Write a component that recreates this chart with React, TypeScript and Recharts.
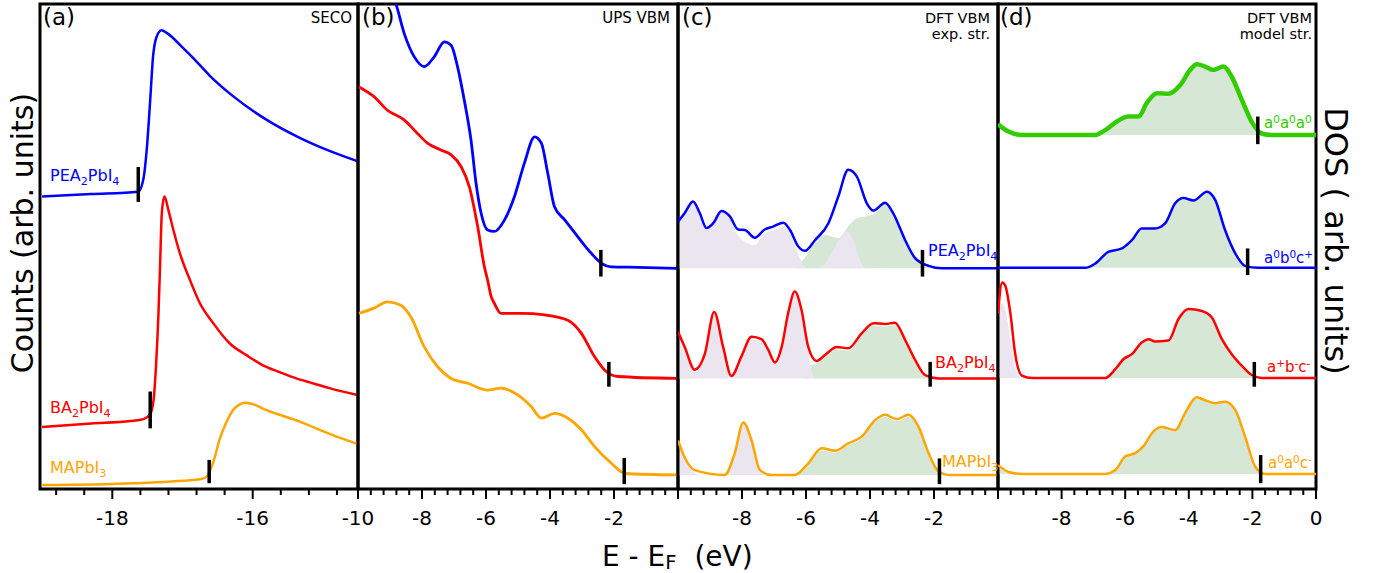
import React from "react";
import {
  Area,
  ComposedChart,
  Line,
  ReferenceArea,
  ReferenceLine,
  XAxis,
  YAxis,
} from "recharts";

type Pt = [number, number];

const C = {
  blue: "#0000ff",
  red: "#ff0000",
  orange: "#ffa500",
  green: "#33cc00",
  fillGreen: "#d6e7d6",
  fillLav: "#ebe5ef",
};

// x ticks (eV); only labelled ones get a number
const ticksA = [-18.8, -18.4, -18, -17.6, -17.2, -16.8, -16.4, -16, -15.6, -15.2, -14.8];
const ticksBCD = [
  -10, -9.6, -9.2, -8.8, -8.4, -8, -7.6, -7.2, -6.8, -6.4, -6, -5.6, -5.2, -4.8, -4.4, -4, -3.6,
  -3.2, -2.8, -2.4, -2, -1.6, -1.2, -0.8, -0.4, 0,
];
const labelsA = [-18, -16];
const labelsB = [-10, -8, -6, -4, -2];
const labelsC = [-8, -6, -4, -2];
const labelsD = [-8, -6, -4, -2, 0];

// (a) SECO
const secoPEA: Pt[] = [
  [-19.0, 60.3], [-18.3, 60.8], [-17.63, 61.3], [-17.56, 63.7], [-17.51, 69.9], [-17.46, 80.2],
  [-17.42, 89.1], [-17.37, 93.2], [-17.3, 94.6], [-17.22, 94.0], [-16.99, 90.9], [-16.85, 88.9],
  [-16.61, 85.2], [-16.28, 81.0], [-15.8, 76.1], [-15.33, 72.4], [-14.87, 69.5], [-14.51, 67.6],
];
const secoBA: Pt[] = [
  [-19.0, 12.8], [-18.3, 13.5], [-17.745, 14.0], [-17.556, 14.4], [-17.461, 15.4], [-17.414, 18.1],
  [-17.376, 25.7], [-17.343, 36.0], [-17.319, 46.3], [-17.295, 56.8], [-17.258, 60.3],
  [-17.201, 57.5], [-17.13, 53.4], [-17.035, 48.5], [-16.894, 43.1], [-16.752, 38.3],
  [-16.563, 34.2], [-16.326, 30.0], [-16.089, 27.6], [-15.854, 25.5], [-15.617, 24.1],
  [-15.38, 22.8], [-15.145, 21.8], [-14.908, 20.8], [-14.51, 19.4],
];
const secoMA: Pt[] = [
  [-19.0, 0.8], [-17.7, 1.2], [-16.75, 2.0], [-16.66, 2.5], [-16.56, 5.6], [-16.47, 10.3],
  [-16.37, 13.9], [-16.28, 16.3], [-16.19, 17.4], [-16.11, 17.8], [-16.0, 17.5], [-15.81, 16.3],
  [-15.33, 13.9], [-14.86, 11.1], [-14.51, 9.3],
];

// (b) UPS VBM
const upsPEA: Pt[] = [
  [-9.09, 103.3], [-8.82, 100.1], [-8.56, 94.0], [-8.24, 89.1], [-7.93, 87.1], [-7.62, 89.1],
  [-7.3, 92.2], [-7.09, 91.5], [-6.89, 87.1], [-6.68, 80.2], [-6.47, 72.0], [-6.31, 63.0],
  [-6.15, 56.8], [-5.95, 53.4], [-5.74, 53.1], [-5.42, 55.5], [-5.11, 60.3], [-4.8, 67.2],
  [-4.48, 72.6], [-4.27, 71.3], [-4.07, 65.1], [-3.86, 58.2], [-3.54, 55.5], [-3.13, 52.0],
  [-2.71, 48.6], [-2.39, 46.5], [-2.08, 45.8], [-1.24, 45.7], [-0.04, 45.5],
];
const upsBA: Pt[] = [
  [-9.97, 82.9], [-9.5, 80.9], [-9.08, 78.1], [-8.56, 76.1], [-8.14, 73.3], [-7.83, 71.3],
  [-7.41, 69.9], [-7.09, 68.9], [-6.78, 66.5], [-6.52, 62.3], [-6.26, 54.1], [-6.05, 45.8],
  [-5.95, 43.1], [-5.84, 39.7], [-5.74, 38.3], [-5.53, 36.2], [-4.9, 36.2], [-4.17, 35.9],
  [-3.44, 34.8], [-3.02, 32.1], [-2.61, 27.3], [-2.29, 24.5], [-1.87, 23.2], [-0.04, 22.8],
];
const upsMA: Pt[] = [
  [-9.97, 36.2], [-9.5, 37.3], [-9.08, 38.6], [-8.66, 37.9], [-8.35, 35.5], [-7.93, 29.3],
  [-7.51, 25.2], [-7.09, 22.8], [-6.57, 21.8], [-5.95, 20.4], [-5.53, 20.8], [-5.01, 19.4],
  [-4.59, 17.0], [-4.27, 14.6], [-3.86, 15.6], [-3.44, 14.6], [-3.02, 12.2], [-2.6, 8.7],
  [-2.08, 5.3], [-1.66, 3.2], [-0.04, 2.9],
];

// (c) DFT VBM, experimental structures
const expPEA: Pt[] = [
  [-10, 55.1], [-9.79, 56.9], [-9.53, 59.3], [-9.32, 56.9], [-9.11, 53.8], [-8.9, 54.8],
  [-8.64, 57.3], [-8.38, 56.2], [-8.12, 53.5], [-7.91, 53.4], [-7.6, 51.8], [-7.29, 53.5],
  [-7.03, 54.1], [-6.71, 54.9], [-6.5, 53.4], [-6.24, 50.0], [-6.03, 49.1], [-5.72, 51.3],
  [-5.3, 54.8], [-4.99, 60.3], [-4.68, 65.8], [-4.41, 64.4], [-4.1, 58.9], [-3.89, 57.4],
  [-3.53, 59.0], [-3.27, 56.8], [-2.9, 51.3], [-2.59, 47.6], [-2.17, 46.0], [-1.75, 45.5],
  [-0.08, 45.5], [0, 45.5],
];
const expPEAorg: Pt[] = [
  [-10, 54.6], [-9.79, 56.5], [-9.53, 58.8], [-9.32, 56.5], [-9.11, 53.4], [-8.9, 54.4],
  [-8.64, 57.0], [-8.38, 55.8], [-8.17, 52.7], [-7.91, 51.0], [-7.6, 50.3], [-7.29, 52.8],
  [-6.97, 53.4], [-6.71, 54.2], [-6.5, 52.7], [-6.29, 49.3], [-6.09, 46.2], [-5.93, 45.5],
  [-5.51, 45.8], [-5.2, 48.6], [-4.88, 52.4], [-4.73, 53.1], [-4.52, 51.3], [-4.31, 47.2],
  [-4.1, 45.5], [-3.9, 45.5],
];
const expPEAinorg: Pt[] = [
  [-6.35, 45.5], [-6.09, 47.2], [-5.72, 50.7], [-5.41, 52.4], [-4.99, 51.7], [-4.68, 54.1],
  [-4.41, 55.8], [-4.1, 56.3], [-3.84, 56.8], [-3.53, 58.9], [-3.27, 56.7], [-2.9, 51.2],
  [-2.59, 47.6], [-2.28, 45.8], [-2.07, 45.5],
];
const expBA: Pt[] = [
  [-10, 32.4], [-9.79, 29.3], [-9.48, 24.6], [-9.16, 27.9], [-8.87, 36.5], [-8.59, 29.3],
  [-8.33, 23.3], [-8.02, 27.3], [-7.7, 31.4], [-7.39, 30.9], [-7.18, 28.7], [-6.97, 26.1],
  [-6.76, 29.3], [-6.56, 36.2], [-6.35, 40.7], [-6.14, 36.9], [-5.93, 29.3], [-5.67, 26.4],
  [-5.41, 27.6], [-5.04, 29.3], [-4.68, 29.0], [-4.26, 32.1], [-3.89, 34.2], [-3.53, 34.0],
  [-3.22, 34.3], [-2.9, 30.7], [-2.59, 26.6], [-2.28, 23.5], [-1.86, 22.8], [0, 22.8],
];
const expBAorg: Pt[] = [
  [-10, 31.8], [-9.79, 28.7], [-9.48, 24.0], [-9.16, 27.3], [-8.87, 35.9], [-8.59, 28.7],
  [-8.33, 22.8], [-8.02, 26.7], [-7.7, 30.8], [-7.39, 30.3], [-7.18, 28.1], [-6.97, 25.5],
  [-6.76, 28.7], [-6.56, 35.6], [-6.35, 40.1], [-6.14, 36.3], [-5.98, 30.0], [-5.85, 25.0],
  [-5.7, 22.8],
];
const expBAinorg: Pt[] = [
  [-10, 26.7], [-9.69, 25.2], [-9.48, 23.5], [-9.37, 22.8], [-6.1, 22.8], [-5.93, 25.3],
  [-5.67, 25.9], [-5.41, 27.1], [-5.04, 28.8], [-4.68, 28.5], [-4.26, 31.6], [-3.89, 33.7],
  [-3.53, 33.5], [-3.22, 33.8], [-2.9, 30.2], [-2.59, 26.1], [-2.28, 23.1], [-2.1, 22.8],
];
const expMA: Pt[] = [
  [-10, 10.0], [-9.79, 6.5], [-9.48, 3.9], [-8.54, 2.9], [-8.23, 7.3], [-7.96, 13.7],
  [-7.7, 10.0], [-7.44, 3.9], [-7.08, 2.9], [-6.35, 2.9], [-5.93, 5.3], [-5.51, 8.4],
  [-5.09, 7.9], [-4.68, 9.4], [-4.26, 10.8], [-3.84, 14.2], [-3.53, 15.3], [-3.16, 14.4],
  [-2.8, 15.3], [-2.49, 12.9], [-2.17, 7.4], [-1.86, 3.6], [-1.55, 2.9], [0, 2.9],
];
const expMAorg: Pt[] = [
  [-10, 9.5], [-9.79, 6.2], [-9.6, 4.0], [-9.3, 2.9], [-8.54, 2.9], [-8.23, 7.0], [-7.96, 13.3],
  [-7.7, 9.6], [-7.44, 3.6], [-7.2, 2.9],
];
const expMAinorg: Pt[] = [
  [-6.5, 2.9], [-6.2, 3.6], [-5.93, 5.0], [-5.51, 8.0], [-5.09, 7.5], [-4.68, 9.0],
  [-4.26, 10.4], [-3.84, 13.8], [-3.53, 14.9], [-3.16, 14.0], [-2.8, 14.9], [-2.49, 12.5],
  [-2.17, 7.0], [-1.86, 3.3], [-1.6, 2.9],
];

// (d) DFT VBM, model structures (tilt patterns)
const modA0A0A0: Pt[] = [
  [-10, 75.2], [-9.67, 73.7], [-9.25, 73.0], [-6.94, 73.0], [-6.63, 74.0], [-6.21, 76.0],
  [-5.9, 76.8], [-5.58, 76.8], [-5.32, 79.6], [-5.0, 81.6], [-4.64, 81.5], [-4.27, 83.3],
  [-3.96, 86.4], [-3.75, 87.6], [-3.49, 87.1], [-3.23, 86.4], [-2.91, 87.1], [-2.65, 85.0],
  [-2.33, 80.2], [-2.02, 75.7], [-1.71, 73.3], [-1.39, 73.0], [0, 73.0],
];
const modA0A0A0fill: Pt[] = [
  [-6.94, 73.0], [-6.63, 73.8], [-6.21, 75.6], [-5.9, 76.3], [-5.58, 76.3], [-5.32, 79.1],
  [-5.0, 81.1], [-4.64, 81.0], [-4.27, 82.8], [-3.96, 85.9], [-3.75, 87.1], [-3.49, 86.6],
  [-3.23, 85.9], [-2.91, 86.6], [-2.65, 84.5], [-2.33, 79.7], [-2.02, 75.2], [-1.71, 73.0],
];
const modA0B0Cp: Pt[] = [
  [-10, 45.6], [-7.26, 45.6], [-6.94, 46.5], [-6.53, 48.9], [-6.1, 49.6], [-5.79, 51.3],
  [-5.48, 53.7], [-5.06, 53.7], [-4.74, 54.8], [-4.43, 58.9], [-4.17, 60.0], [-3.85, 59.5],
  [-3.43, 61.3], [-3.17, 59.6], [-2.86, 53.4], [-2.54, 48.6], [-2.23, 46.0], [-1.81, 45.6],
  [0, 45.6],
];
const modA0B0Cpfill: Pt[] = [
  [-7.26, 45.6], [-6.94, 46.3], [-6.53, 48.6], [-6.1, 49.3], [-5.79, 51.0], [-5.48, 53.4],
  [-5.06, 53.4], [-4.74, 54.5], [-4.43, 58.6], [-4.17, 59.7], [-3.85, 59.2], [-3.43, 61.0],
  [-3.17, 59.3], [-2.86, 53.1], [-2.54, 48.3], [-2.23, 45.8], [-1.9, 45.6],
];
const modApBmCm: Pt[] = [
  [-10, 36.2], [-9.87, 42.6], [-9.77, 41.9], [-9.61, 36.2], [-9.46, 27.9], [-9.25, 23.4],
  [-8.93, 22.9], [-6.63, 22.9], [-6.31, 24.7], [-6.05, 26.8], [-5.79, 27.8], [-5.48, 30.2],
  [-5.26, 30.9], [-5.06, 30.4], [-4.64, 30.6], [-4.32, 35.1], [-4.01, 37.1], [-3.59, 36.7],
  [-3.28, 35.4], [-2.96, 30.9], [-2.65, 27.8], [-2.33, 25.4], [-2.02, 23.5], [-1.71, 22.9],
  [0, 22.9],
];
const modApBmCmorg: Pt[] = [
  [-10, 36.0], [-9.87, 38.3], [-9.77, 37.0], [-9.61, 31.0], [-9.46, 25.0], [-9.3, 22.9],
];
const modApBmCminorg: Pt[] = [
  [-10, 27.6], [-9.87, 27.8], [-9.7, 26.0], [-9.5, 23.5], [-9.35, 22.9], [-6.63, 22.9],
  [-6.31, 24.4], [-6.05, 26.5], [-5.79, 27.5], [-5.48, 29.9], [-5.26, 30.6], [-5.06, 30.1],
  [-4.64, 30.3], [-4.32, 34.8], [-4.01, 36.8], [-3.59, 36.4], [-3.28, 35.1], [-2.96, 30.6],
  [-2.65, 27.5], [-2.33, 25.1], [-2.02, 23.2], [-1.8, 22.9],
];
const modA0A0Cm: Pt[] = [
  [-10, 4.9], [-9.67, 3.5], [-9.25, 3.1], [-6.63, 3.1], [-6.31, 3.9], [-6.0, 6.7], [-5.68, 7.4],
  [-5.43, 8.8], [-5.11, 11.9], [-4.85, 12.8], [-4.43, 12.1], [-4.12, 15.6], [-3.75, 18.9],
  [-3.49, 18.3], [-3.17, 17.7], [-2.86, 18.0], [-2.54, 16.3], [-2.23, 10.8], [-1.91, 4.6],
  [-1.6, 3.1], [0, 3.1],
];
const modA0A0Cmfill: Pt[] = [
  [-10, 4.6], [-9.7, 3.3], [-9.4, 3.1], [-6.63, 3.1], [-6.31, 3.7], [-6.0, 6.4], [-5.68, 7.1],
  [-5.43, 8.5], [-5.11, 11.6], [-4.85, 12.5], [-4.43, 11.8], [-4.12, 15.3], [-3.75, 18.6],
  [-3.49, 18.0], [-3.17, 17.4], [-2.86, 17.7], [-2.54, 16.0], [-2.23, 10.5], [-1.91, 4.4],
  [-1.7, 3.1],
];

// onset markers: [x, yLow, yHigh]
const markA: [number, number, number][] = [[-17.63, 59.2, 66.4], [-17.46, 12.5, 20.1], [-16.62, 1.2, 6.0]];
const markB: [number, number, number][] = [[-2.41, 43.8, 49.3], [-2.16, 21.1, 26.2], [-1.68, 1.0, 6.4]];
const markC: [number, number, number][] = [[-2.36, 43.8, 49.3], [-2.12, 21.1, 26.2], [-1.83, 1.0, 6.3]];
const markD: [number, number, number][] = [
  [-1.83, 71.1, 76.8], [-2.15, 44.1, 49.6], [-1.94, 21.1, 26.2], [-1.74, 1.2, 7.0],
];

const pts = (a: Pt[]) => a.map(([x, y]) => ({ x, y }));
const FONT = "'DejaVu Sans', sans-serif";

function renderTick(props: any, labels: number[]) {
  const { x, y, payload } = props;
  const v = payload.value;
  const major = Math.abs(v % 2) < 1e-6;
  return (
    <g>
      <line x1={x} x2={x} y1={y} y2={y + (major ? 10 : 6)} stroke="#000" strokeWidth={2} />
      {labels.includes(v) && (
        <text x={x} y={y + 36} textAnchor="middle" fontSize={20} fontFamily={FONT} fill="#000">
          {v}
        </text>
      )}
    </g>
  );
}

function lineEl(key: string, data: Pt[], color: string, w = 2.5) {
  return (
    <Line
      key={key}
      data={pts(data)}
      dataKey="y"
      type="monotone"
      stroke={color}
      strokeWidth={w}
      dot={false}
      activeDot={false}
      isAnimationActive={false}
    />
  );
}

function areaEl(key: string, data: Pt[], fill: string, base: number) {
  return (
    <Area
      key={key}
      data={pts(data)}
      dataKey="y"
      type="monotone"
      baseValue={base}
      fill={fill}
      fillOpacity={1}
      stroke="none"
      dot={false}
      activeDot={false}
      isAnimationActive={false}
    />
  );
}

function Panel({
  left,
  width,
  domain,
  ticks,
  labels,
  marks,
  items,
}: {
  left: number;
  width: number;
  domain: [number, number];
  ticks: number[];
  labels: number[];
  marks: [number, number, number][];
  items: React.ReactNode[];
}) {
  return (
    <div style={{ position: "absolute", left: left - 20, top: -6 }}>
      <ComposedChart width={width + 40} height={535} margin={{ top: 10, right: 20, bottom: 0, left: 20 }}>
        <XAxis
          type="number"
          dataKey="x"
          domain={domain}
          allowDataOverflow
          ticks={ticks}
          interval={0}
          tick={(p: any) => renderTick(p, labels)}
          tickLine={false}
          axisLine={false}
          tickSize={0}
          tickMargin={0}
          height={40}
        />
        <YAxis type="number" domain={[0, 100]} allowDataOverflow hide />
        {items}
        {marks.map(([x, y1, y2], i) => (
          <ReferenceLine
            key={"m" + i}
            segment={[
              { x, y: y1 },
              { x, y: y2 },
            ]}
            stroke="#000"
            strokeWidth={3.5}
          />
        ))}
        <ReferenceArea
          x1={domain[0]}
          x2={domain[1]}
          y1={0}
          y2={100}
          fill="none"
          fillOpacity={0}
          stroke="#000"
          strokeWidth={3}
          ifOverflow="visible"
        />
      </ComposedChart>
    </div>
  );
}

const sub = (t: string, shift = 0.35) => (
  <span style={{ fontSize: "0.7em", position: "relative", top: `${shift}em` }}>{t}</span>
);
const sup = (t: string) => (
  <span style={{ fontSize: "0.7em", position: "relative", top: "-0.45em" }}>{t}</span>
);

function Txt({
  left,
  top,
  right,
  size,
  color = "#000",
  lh,
  align,
  children,
}: {
  left?: number;
  top: number;
  right?: number;
  size: number;
  color?: string;
  lh?: number;
  align?: "left" | "right";
  children: React.ReactNode;
}) {
  return (
    <div
      style={{
        position: "absolute",
        left,
        right,
        top,
        fontSize: size,
        lineHeight: `${lh ?? size}px`,
        fontFamily: FONT,
        color,
        whiteSpace: "nowrap",
        textAlign: align ?? "left",
      }}
    >
      {children}
    </div>
  );
}

export default function App() {
  return (
    <div
      style={{
        position: "absolute",
        left: 0,
        top: 0,
        width: 1377,
        height: 573,
        background: "#fff",
        overflow: "hidden",
      }}
    >
      <Panel
        left={40}
        width={318}
        domain={[-19.03, -14.5]}
        ticks={ticksA}
        labels={labelsA}
        marks={markA}
        items={[
          lineEl("a1", secoPEA, C.blue),
          lineEl("a2", secoBA, C.red),
          lineEl("a3", secoMA, C.orange),
        ]}
      />
      <Panel
        left={358}
        width={320}
        domain={[-10, 0]}
        ticks={ticksBCD}
        labels={labelsB}
        marks={markB}
        items={[
          lineEl("b1", upsPEA, C.blue, 2.8),
          lineEl("b2", upsBA, C.red, 2.8),
          lineEl("b3", upsMA, C.orange, 2.8),
        ]}
      />
      <Panel
        left={678}
        width={320}
        domain={[-10, 0]}
        ticks={ticksBCD}
        labels={labelsC}
        marks={markC}
        items={[
          areaEl("c1g", expPEAinorg, C.fillGreen, 45.5),
          areaEl("c1l", expPEAorg, C.fillLav, 45.5),
          areaEl("c2g", expBAinorg, C.fillGreen, 22.8),
          areaEl("c2l", expBAorg, C.fillLav, 22.8),
          areaEl("c3g", expMAinorg, C.fillGreen, 2.9),
          areaEl("c3l", expMAorg, C.fillLav, 2.9),
          lineEl("c1", expPEA, C.blue),
          lineEl("c2", expBA, C.red),
          lineEl("c3", expMA, C.orange),
        ]}
      />
      <Panel
        left={998}
        width={318}
        domain={[-10, 0]}
        ticks={ticksBCD}
        labels={labelsD}
        marks={markD}
        items={[
          areaEl("d1g", modA0A0A0fill, C.fillGreen, 73.0),
          areaEl("d2g", modA0B0Cpfill, C.fillGreen, 45.6),
          areaEl("d3g", modApBmCminorg, C.fillGreen, 22.9),
          areaEl("d3l", modApBmCmorg, C.fillLav, 22.9),
          areaEl("d4g", modA0A0Cmfill, C.fillGreen, 3.1),
          lineEl("d1", modA0A0A0, C.green, 4.5),
          lineEl("d2", modA0B0Cp, C.blue),
          lineEl("d3", modApBmCm, C.red),
          lineEl("d4", modA0A0Cm, C.orange),
        ]}
      />

      {/* panel tags */}
      <Txt left={43} top={6} size={23}>(a)</Txt>
      <Txt left={362} top={6} size={23}>(b)</Txt>
      <Txt left={682} top={6} size={23}>(c)</Txt>
      <Txt left={1000} top={6} size={23}>(d)</Txt>

      {/* panel headers */}
      <Txt right={1377 - 352} top={11} size={15} align="right">SECO</Txt>
      <Txt right={1377 - 670} top={11} size={15} align="right">UPS VBM</Txt>
      <Txt right={1377 - 990} top={11} size={14.5} align="right">DFT VBM</Txt>
      <Txt right={1377 - 990} top={27} size={14.5} align="right">exp. str.</Txt>
      <Txt right={1377 - 1312} top={11} size={14.5} align="right">DFT VBM</Txt>
      <Txt right={1377 - 1312} top={27} size={14.5} align="right">model str.</Txt>

      {/* curve names */}
      <Txt left={50} top={168} size={16} color={C.blue}>PEA{sub("2")}PbI{sub("4")}</Txt>
      <Txt left={50} top={400} size={16} color={C.red}>BA{sub("2")}PbI{sub("4")}</Txt>
      <Txt left={50} top={460} size={16} color={C.orange}>MAPbI{sub("3")}</Txt>
      <Txt left={928} top={243} size={16} color={C.blue}>PEA{sub("2")}PbI{sub("4")}</Txt>
      <Txt left={935} top={355} size={16} color={C.red}>BA{sub("2")}PbI{sub("4")}</Txt>
      <Txt left={942} top={454} size={16} color={C.orange}>MAPbI{sub("3")}</Txt>
      <Txt left={1264} top={116} size={15} color={C.green}>a{sup("0")}a{sup("0")}a{sup("0")}</Txt>
      <Txt left={1264} top={251} size={15} color={C.blue}>a{sup("0")}b{sup("0")}c{sup("+")}</Txt>
      <Txt left={1267} top={360} size={15} color={C.red}>a{sup("+")}b{sup("-")}c{sup("-")}</Txt>
      <Txt left={1268} top={456} size={15} color={C.orange}>a{sup("0")}a{sup("0")}c{sup("-")}</Txt>

      {/* axis titles */}
      <Txt left={602} top={537} size={28} lh={40}>
        E - E{sub("F", 0.17)}&nbsp; (eV)
      </Txt>
      <div
        style={{
          position: "absolute",
          left: 23 - 200,
          top: 233 - 15,
          width: 400,
          height: 30,
          lineHeight: "30px",
          fontSize: 30,
          fontFamily: FONT,
          textAlign: "center",
          transform: "rotate(-90deg)",
          whiteSpace: "nowrap",
        }}
      >
        Counts (arb. units)
      </div>
      <div
        style={{
          position: "absolute",
          left: 1336 - 200,
          top: 241 - 16,
          width: 400,
          height: 32,
          lineHeight: "32px",
          fontSize: 32,
          fontFamily: FONT,
          textAlign: "center",
          transform: "rotate(90deg)",
          whiteSpace: "nowrap",
        }}
      >
        DOS ( arb. units)
      </div>
    </div>
  );
}
